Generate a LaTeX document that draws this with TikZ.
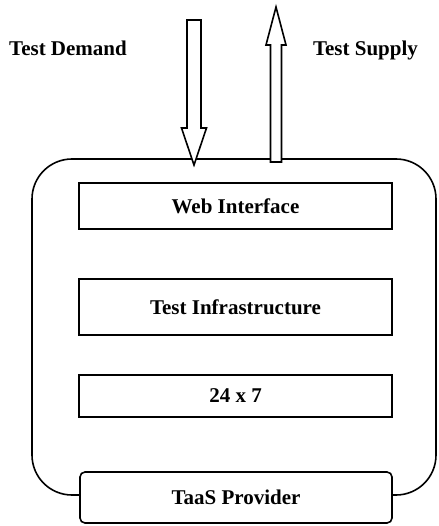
\documentclass[tikz,border=0pt]{standalone}
\usepackage{fontspec}
\setmainfont{Liberation Serif}
\tikzset{
  layer/.style={draw, line width=1.6pt, fill=white, inner sep=0pt, minimum width=313pt, font=\bfseries\fontsize{21}{25}\selectfont},
  flowlabel/.style={inner sep=0pt, anchor=base, font=\bfseries\fontsize{21}{25}\selectfont},
  blockarrow/.style={draw, line width=1.6pt, fill=white, line join=miter}
}

\begin{document}
\begin{tikzpicture}[x=1pt, y=-1pt]
        \useasboundingbox (0,0) rectangle (438,526);

        % Outer frame of the provider
        \draw[line width=1.6pt, rounded corners=40pt] (32,159) rectangle (436,495);

        % Service layers inside the frame
        \node[layer, minimum height=46pt] (web) at (235.5,206) {Web Interface};
        \node[layer, minimum height=56pt] (infra) at (235.5,307) {Test Infrastructure};
        \node[layer, minimum height=42pt] (hours) at (235.5,396) {24 x 7};
        \node[layer, minimum width=312pt, minimum height=51pt, rounded corners=5pt] (provider) at (236,497.5) {TaaS Provider};

        % Demand goes in, supply comes out
        \node[flowlabel] (demand) at (68,55.5) {Test Demand};
        \node[flowlabel] (supply) at (365.5,55.5) {Test Supply};

        \draw[blockarrow] (187,20) -- (201,20) -- (201,128) -- (206.5,128) -- (194,165)
            -- (181.5,128) -- (187,128) -- cycle;
        \draw[blockarrow] (270.5,162) -- (281.5,162) -- (281.5,45) -- (286,45) -- (276,7)
            -- (266,45) -- (270.5,45) -- cycle;
    \end{tikzpicture}
\end{document}
